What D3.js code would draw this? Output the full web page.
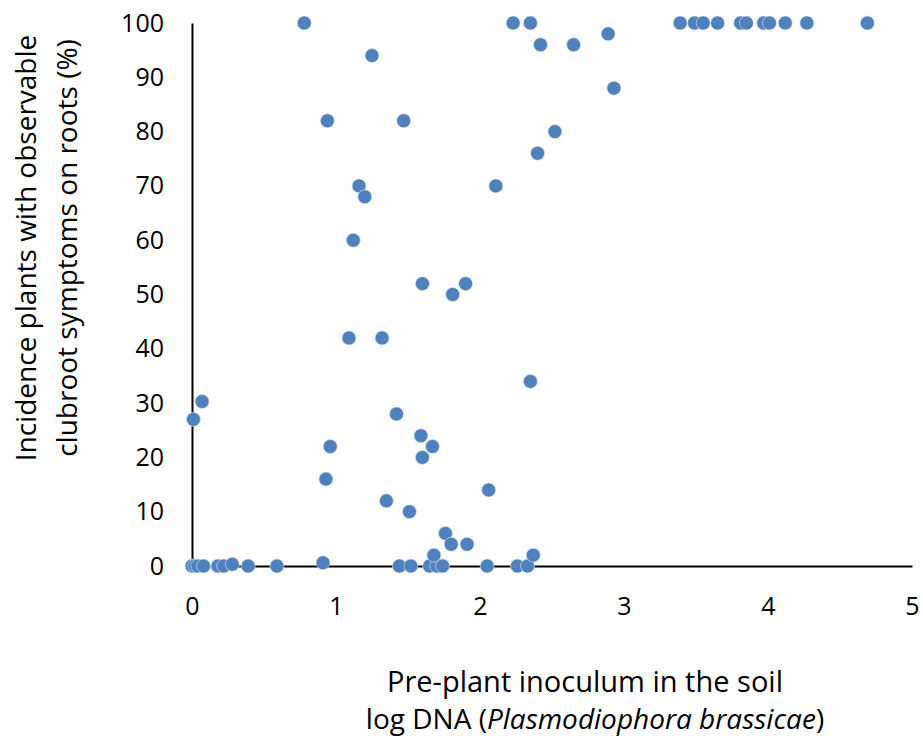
<!DOCTYPE html>
<html>
<head>
<meta charset="utf-8">
<script src="https://cdn.jsdelivr.net/npm/d3@7"></script>
<style>
  body { margin: 0; background: #fff; }
  text { font-family: "Open Sans", sans-serif; fill: #000; }
</style>
</head>
<body>
<div id="chart"></div>
<script>
// log DNA values (x) and incidence % (y)
const logDNA = [
  0, 0.02, 0.04, 0.08, 0.18, 0.22, 0.28, 0.39, 0.59, 0.91,
  1.44, 1.52, 1.65, 1.70, 1.74, 2.05, 2.26, 2.33,
  0.01, 0.07, 0.78, 0.93, 0.94, 0.96, 1.09, 1.12, 1.16, 1.20,
  1.25, 1.32, 1.35, 1.42, 1.47, 1.51, 1.59, 1.60, 1.60, 1.67,
  1.68, 1.76, 1.80, 1.81, 1.90, 1.91, 2.06, 2.11, 2.23, 2.35,
  2.35, 2.37, 2.40, 2.42, 2.52, 2.65, 2.89, 2.93, 3.39, 3.49,
  3.55, 3.65, 3.81, 3.85, 3.97, 4.01, 4.12, 4.27, 4.69
];
const incidence = [
  0, 0, 0, 0, 0, 0, 0.3, 0, 0, 0.6,
  0, 0, 0, 0, 0, 0, 0, 0,
  27, 30.3, 100, 16, 82, 22, 42, 60, 70, 68,
  94, 42, 12, 28, 82, 10, 24, 20, 52, 22,
  2, 6, 4, 50, 52, 4, 14, 70, 100, 100,
  34, 2, 76, 96, 80, 96, 98, 88, 100, 100,
  100, 100, 100, 100, 100, 100, 100, 100, 100
];
const xTicks = [0, 1, 2, 3, 4, 5];
const yTicks = [0, 10, 20, 30, 40, 50, 60, 70, 80, 90, 100];

const points = logDNA.map((x, i) => ({ x, y: incidence[i] }));

const W = 923, H = 745;
const margin = { top: 23, right: 11, bottom: 179, left: 192 };
const width = W - margin.left - margin.right;
const height = H - margin.top - margin.bottom;

const svg = d3.select("#chart").append("svg")
  .attr("width", W).attr("height", H);

const g = svg.append("g")
  .attr("transform", `translate(${margin.left},${margin.top})`);

const x = d3.scaleLinear().domain([0, 5]).range([0, width]);
const y = d3.scaleLinear().domain([0, 100]).range([height, 0]);

// axes without tick marks, Excel style
const xAxis = g.append("g")
  .attr("transform", `translate(0,${height})`)
  .call(d3.axisBottom(x).tickValues(xTicks).tickSize(0).tickPadding(31).tickFormat(d3.format("d")));
const yAxis = g.append("g")
  .call(d3.axisLeft(y).tickValues(yTicks).tickSize(0).tickPadding(28).tickFormat(d3.format("d")));

[xAxis, yAxis].forEach(a => {
  a.select(".domain").attr("stroke", "#000").attr("stroke-width", 2);
  a.selectAll("text").style("font-size", "25px").style("font-family", '"Open Sans", sans-serif');
});

g.selectAll("circle")
  .data(points)
  .join("circle")
  .attr("cx", d => x(d.x))
  .attr("cy", d => y(d.y))
  .attr("r", 7)
  .attr("fill", "#4F81BD")
  .attr("stroke", "#dfe7f2")
  .attr("stroke-width", 0.6);

// x axis title, two lines
svg.append("text")
  .attr("x", 585).attr("y", 692)
  .attr("text-anchor", "middle")
  .style("font-size", "29px")
  .text("Pre-plant inoculum in the soil");
const l2 = svg.append("text")
  .attr("x", 595).attr("y", 729)
  .attr("text-anchor", "middle")
  .style("font-size", "28px");
l2.append("tspan").text("log DNA (");
l2.append("tspan").style("font-style", "italic").text("Plasmodiophora brassicae");
l2.append("tspan").text(")");

// y axis title
const yt = svg.append("text")
  .attr("text-anchor", "middle")
  .attr("transform", "translate(0,248) rotate(-90)")
  .style("font-size", "28px");
yt.append("tspan").attr("x", 0).attr("y", 36).text("Incidence plants with observable");
yt.append("tspan").attr("x", 0).attr("y", 77).text("clubroot symptoms on roots (%)");
</script>
</body>
</html>
